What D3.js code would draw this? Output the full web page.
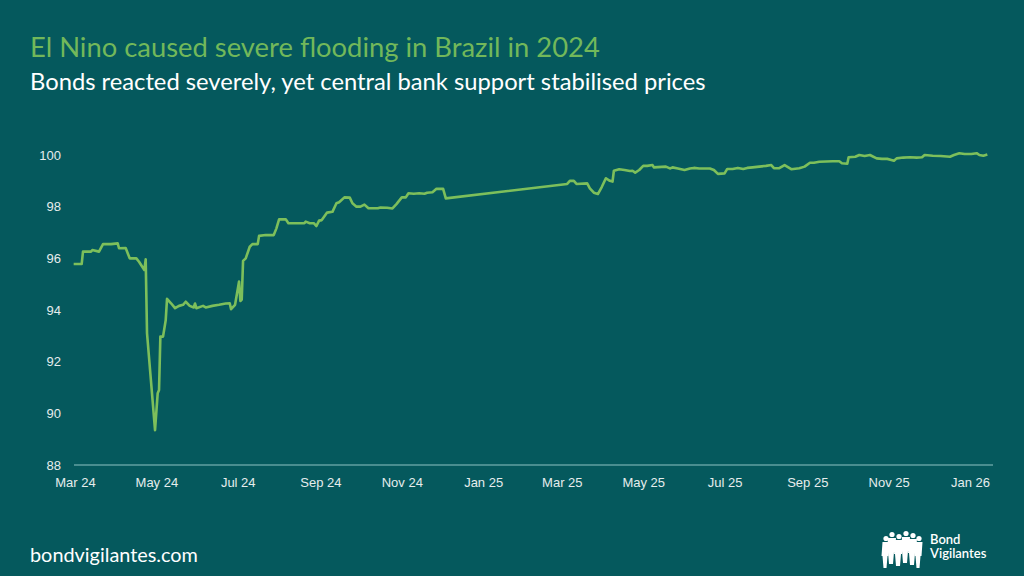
<!DOCTYPE html>
<html>
<head>
<meta charset="utf-8">
<script src="https://cdn.jsdelivr.net/npm/d3@7"></script>
<style>
  html, body { margin: 0; padding: 0; background: #05595d; }
  svg { display: block; font-family: Lato, "Open Sans", sans-serif; }
</style>
</head>
<body>
<div id="chart"></div>
<script>
const width = 1024;
const height = 576;

// bond price
const dates = [
  '2024-02-29','2024-03-06','2024-03-07','2024-03-13','2024-03-14','2024-03-19','2024-03-22','2024-03-28',
  '2024-04-02','2024-04-03','2024-04-08','2024-04-11','2024-04-16','2024-04-18','2024-04-22','2024-04-23',
  '2024-04-24','2024-04-30','2024-05-02','2024-05-03','2024-05-04','2024-05-06','2024-05-08','2024-05-09',
  '2024-05-12','2024-05-15','2024-05-18','2024-05-21','2024-05-23','2024-05-26','2024-05-29','2024-05-30',
  '2024-05-31','2024-06-05','2024-06-07','2024-06-12','2024-06-17','2024-06-22','2024-06-25','2024-06-26',
  '2024-06-29','2024-07-02','2024-07-03','2024-07-04','2024-07-05','2024-07-07','2024-07-10','2024-07-12',
  '2024-07-16','2024-07-17','2024-07-22','2024-07-28','2024-07-30','2024-08-01','2024-08-06','2024-08-08',
  '2024-08-20','2024-08-21','2024-08-24','2024-08-27','2024-08-29','2024-08-31','2024-09-02','2024-09-06',
  '2024-09-10','2024-09-13','2024-09-15','2024-09-19','2024-09-23','2024-09-25','2024-09-28','2024-10-01',
  '2024-10-04','2024-10-07','2024-10-14','2024-10-16','2024-10-21','2024-10-25','2024-10-28','2024-11-01',
  '2024-11-04','2024-11-06','2024-11-10','2024-11-14','2024-11-18','2024-11-20','2024-11-24','2024-11-27',
  '2024-12-02','2024-12-04',
  '2025-03-05','2025-03-07','2025-03-10','2025-03-12','2025-03-20','2025-03-22','2025-03-25','2025-03-28',
  '2025-03-31','2025-04-03','2025-04-06','2025-04-08','2025-04-09','2025-04-13','2025-04-17','2025-04-21',
  '2025-04-23','2025-04-25','2025-04-28','2025-05-01','2025-05-04','2025-05-08','2025-05-09','2025-05-18',
  '2025-05-21','2025-05-23','2025-05-27','2025-06-01','2025-06-05','2025-06-08','2025-06-12','2025-06-20',
  '2025-06-23','2025-06-26','2025-07-01','2025-07-03','2025-07-07','2025-07-11','2025-07-15','2025-07-18',
  '2025-07-22','2025-07-27','2025-08-01','2025-08-05','2025-08-07','2025-08-11','2025-08-15','2025-08-20',
  '2025-08-26','2025-08-30','2025-09-03','2025-09-06','2025-09-10','2025-09-15','2025-09-20','2025-09-25',
  '2025-09-27','2025-10-01','2025-10-02','2025-10-07','2025-10-10','2025-10-14','2025-10-18','2025-10-23',
  '2025-10-27','2025-10-31','2025-11-03','2025-11-05','2025-11-07','2025-11-12','2025-11-17','2025-11-22',
  '2025-11-26','2025-11-28','2025-12-04','2025-12-10','2025-12-17','2025-12-20','2025-12-24','2025-12-28',
  '2026-01-02','2026-01-06','2026-01-08','2026-01-11','2026-01-14'
];
const prices = [
  95.78, 95.78, 96.26, 96.26, 96.32, 96.26, 96.55, 96.55,
  96.58, 96.39, 96.40, 96.00, 96.00, 95.87, 95.55, 95.96,
  93.10, 89.35, 90.78, 90.90, 92.97, 92.97, 93.60, 94.43,
  94.26, 94.07, 94.16, 94.20, 94.32, 94.16, 94.10, 94.25,
  94.07, 94.16, 94.10, 94.16, 94.20, 94.25, 94.26, 94.03,
  94.20, 95.10, 94.35, 94.40, 95.90, 96.00, 96.45, 96.55,
  96.55, 96.87, 96.90, 96.90, 97.16, 97.51, 97.51, 97.36,
  97.36, 97.42, 97.36, 97.36, 97.25, 97.46, 97.48, 97.77,
  97.80, 98.13, 98.17, 98.36, 98.35, 98.13, 98.00, 98.00,
  98.08, 97.94, 97.94, 97.97, 97.96, 97.93, 98.10, 98.36,
  98.36, 98.52, 98.50, 98.52, 98.50, 98.54, 98.56, 98.69,
  98.69, 98.32,
  98.88, 99.00, 99.00, 98.88, 98.90, 98.71, 98.54, 98.49,
  98.77, 99.10, 99.00, 98.97, 99.39, 99.45, 99.42, 99.38,
  99.39, 99.32, 99.42, 99.58, 99.58, 99.61, 99.52, 99.55,
  99.48, 99.52, 99.48, 99.42, 99.48, 99.50, 99.48, 99.48,
  99.42, 99.27, 99.29, 99.46, 99.46, 99.50, 99.46, 99.50,
  99.52, 99.55, 99.58, 99.61, 99.49, 99.49, 99.61, 99.45,
  99.49, 99.55, 99.70, 99.70, 99.74, 99.75, 99.76, 99.76,
  99.68, 99.66, 99.91, 99.93, 100.00, 99.96, 100.00, 99.87,
  99.85, 99.85, 99.81, 99.78, 99.87, 99.90, 99.91, 99.90,
  99.91, 100.00, 99.97, 99.96, 99.93, 100.00, 100.07, 100.04,
  100.04, 100.07, 100.00, 99.97, 100.02
];

const yTicks = [88, 90, 92, 94, 96, 98, 100];
const title = 'El Nino caused severe flooding in Brazil in 2024';
const subtitle = 'Bonds reacted severely, yet central bank support stabilised prices';
const footer = 'bondvigilantes.com';

const parse = d3.timeParse('%Y-%m-%d');
const series = dates.map((d, i) => ({ date: parse(d), value: prices[i] }));

const x = d3.scaleTime()
    .domain([parse('2024-03-01'), parse('2026-01-01')])
    .range([75, 970]);
const y = d3.scaleLinear().domain([88, 100]).range([465, 155]);

const svg = d3.select('#chart').append('svg')
    .attr('width', width).attr('height', height);

svg.append('rect').attr('width', width).attr('height', height).attr('fill', '#05595d');

// fit a text to the width it takes in the picture
function fitText(sel, target) {
    let size = +sel.attr('font-size');
    const w = sel.node().getComputedTextLength();
    sel.attr('font-size', (size * target / w).toFixed(2));
}

const t1 = svg.append('text').attr('x', 30).attr('y', 57)
    .attr('font-size', 26).attr('fill', '#72b85a').text(title);
fitText(t1, 570);
const t2 = svg.append('text').attr('x', 30).attr('y', 90)
    .attr('font-size', 21).attr('fill', '#ffffff').text(subtitle);
fitText(t2, 676);
const t3 = svg.append('text').attr('x', 30).attr('y', 562)
    .attr('font-size', 18).attr('fill', '#ffffff').text(footer);
fitText(t3, 168);

// axes
const xAxis = svg.append('g')
    .attr('transform', `translate(0,${y(88)})`)
    .call(d3.axisBottom(x)
        .ticks(d3.timeMonth.every(2))
        .tickFormat(d3.timeFormat('%b %y'))
        .tickSize(0)
        .tickPadding(13));
xAxis.select('.domain').remove();
xAxis.selectAll('text').attr('fill', '#e6eded').attr('font-size', 13);

svg.append('line')
    .attr('x1', 74).attr('x2', 993)
    .attr('y1', y(88)).attr('y2', y(88))
    .attr('stroke', '#8fc4c4').attr('stroke-width', 1.2);

const yAxis = svg.append('g')
    .attr('transform', 'translate(61,0)')
    .call(d3.axisLeft(y).tickValues(yTicks).tickSize(0).tickPadding(0));
yAxis.select('.domain').remove();
yAxis.selectAll('text').attr('fill', '#e6eded').attr('font-size', 13);

// price line
const line = d3.line().x(d => x(d.date)).y(d => y(d.value));
svg.append('path')
    .datum(series)
    .attr('d', line)
    .attr('fill', 'none')
    .attr('stroke', '#7dbf5b')
    .attr('stroke-width', 2.6)
    .attr('stroke-linejoin', 'round');

// logo: a crowd of small figures and the name
const logo = svg.append('g').attr('transform', 'translate(882,530)');
const figures = [
    { cx: 4, top: 6, w: 7 }, { cx: 10, top: 2, w: 8 }, { cx: 17, top: 4, w: 8 },
    { cx: 24, top: 1, w: 8 }, { cx: 31, top: 3, w: 8 }, { cx: 37, top: 6, w: 7 }
];
figures.forEach(f => {
    logo.append('circle').attr('cx', f.cx).attr('cy', f.top + 2.5).attr('r', 2.6).attr('fill', '#ffffff');
    logo.append('path')
        .attr('d', `M${f.cx - f.w / 2},${f.top + 6} h${f.w} l-1,14 h-1 l-1,12 h-${f.w - 4} l-1,-12 h-1 z`)
        .attr('fill', '#ffffff');
});
logo.append('text').attr('x', 48).attr('y', 14).attr('font-size', 13)
    .attr('font-weight', 600).attr('fill', '#ffffff').text('Bond');
logo.append('text').attr('x', 48).attr('y', 28).attr('font-size', 13)
    .attr('font-weight', 600).attr('fill', '#ffffff').text('Vigilantes');
</script>
</body>
</html>
